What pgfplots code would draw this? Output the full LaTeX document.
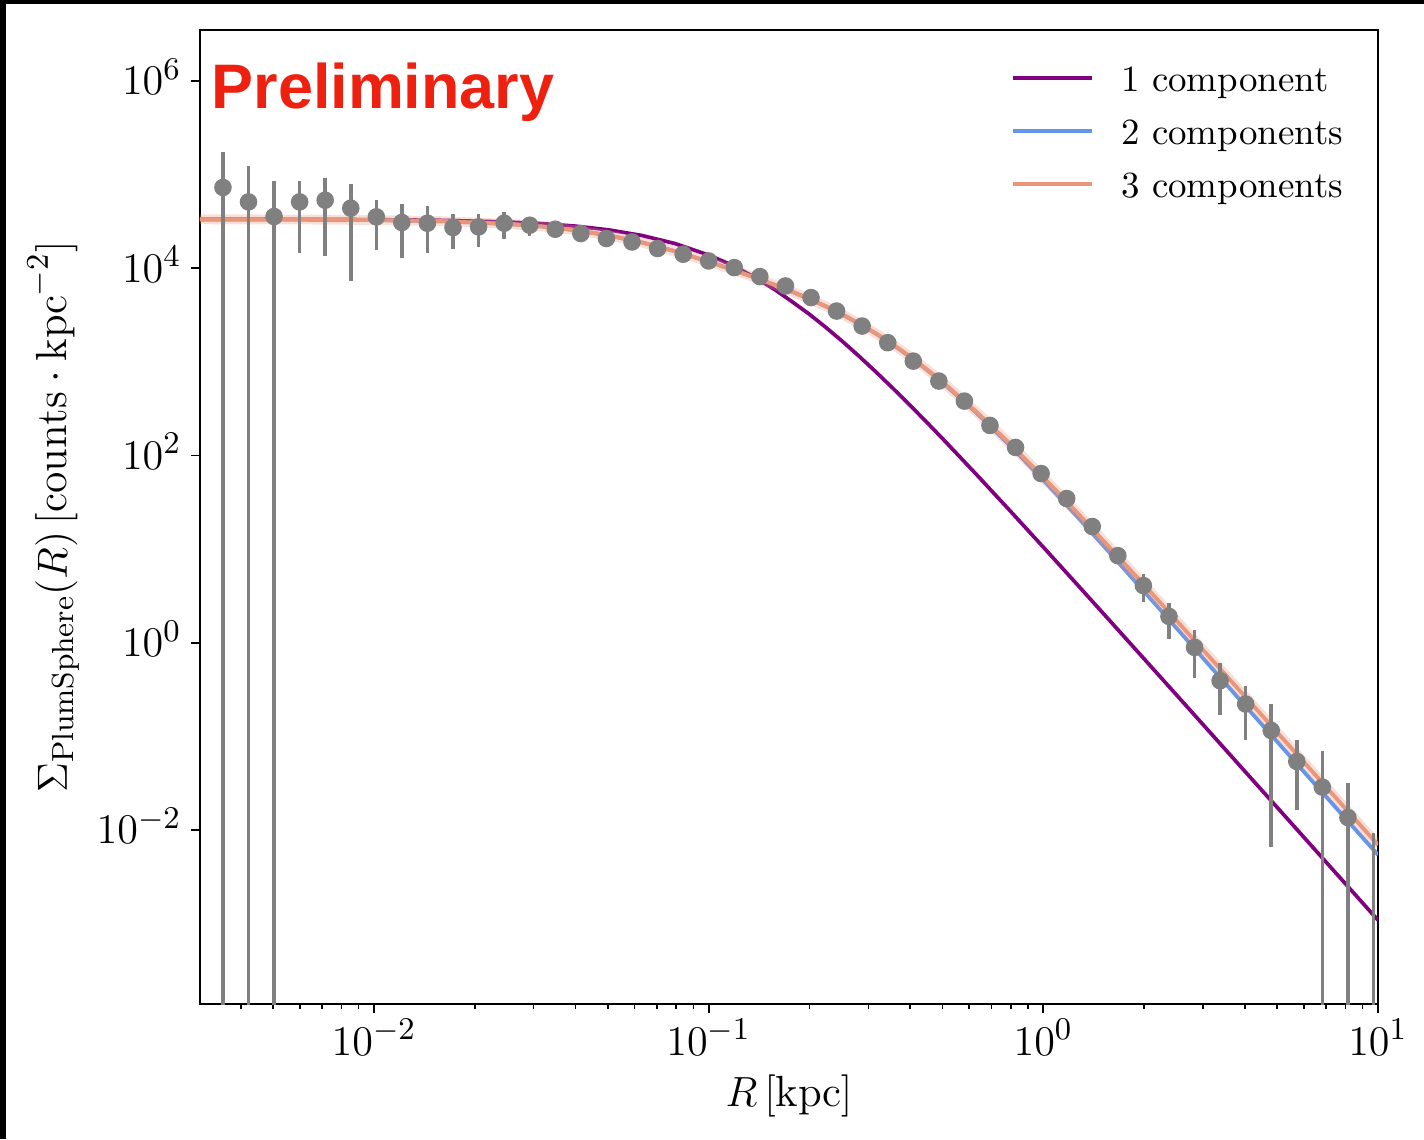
\documentclass[border=0pt]{standalone}
\usepackage{fontspec}
\usepackage{pgfplots}
\usepackage{pgfplotstable}
\pgfplotsset{compat=1.18}
\newfontfamily\prelimfont{Liberation Sans}

\definecolor{onecomp}{RGB}{128,0,128}
\definecolor{twocomp}{RGB}{100,149,237}
\definecolor{threecomp}{RGB}{233,150,122}
\definecolor{datagray}{RGB}{128,128,128}
\definecolor{prelimred}{RGB}{238,32,16}

% binned surface density profile
\pgfplotstableread{
R S
0.003537 72950
0.004217 51170
0.005028 35730
0.005995 51170
0.007147 53330
0.008522 43850
0.01016 35400
0.01211 30830
0.01444 30270
0.01722 27230
0.02053 27670
0.02449 30270
0.02919 28840
0.03481 26120
0.04150 23500
0.04948 20800
0.05902 19100
0.07036 16260
0.08390 14130
0.1000 11970
0.1193 10160
0.1422 8147
0.1696 6471
0.2022 4864
0.2411 3491
0.2874 2415
0.3428 1603
0.4087 1019
0.4873 623.7
0.5810 381.1
0.6928 209.4
0.8260 121.9
0.9849 64.12
1.1744 34.67
1.4002 17.42
1.6697 8.511
1.9907 4.074
2.3734 1.910
2.8301 0.8913
3.3743 0.3926
4.0233 0.2213
4.7973 0.1153
5.7196 0.05383
6.8202 0.02864
8.1310 0.01355
}\points

% error bar segments (lower, upper), separated by nan
\pgfplotstableread{
R S
0.003537 1e-5
0.003537 172600
0.003537 nan
0.004217 1e-5
0.004217 122500
0.004217 nan
0.005028 1e-5
0.005028 85900
0.005028 nan
0.005995 14720
0.005995 84530
0.005995 nan
0.007147 13550
0.007147 91830
0.007147 nan
0.008522 7311
0.008522 79070
0.008522 nan
0.01016 15600
0.01016 53700
0.01016 nan
0.01211 12790
0.01211 48310
0.01211 nan
0.01444 14720
0.01444 45710
0.01444 nan
0.01722 16260
0.01722 38460
0.01722 nan
0.02053 16900
0.02053 38460
0.02053 nan
0.02449 20750
0.02449 39450
0.02449 nan
0.02919 22130
0.02919 33420
0.02919 nan
0.03481 23990
0.03481 28180
0.03481 nan
0.04150 21380
0.04150 25120
0.04150 nan
0.04948 19050
0.04948 22130
0.04948 nan
1.9907 2.723
1.9907 5.433
1.9907 nan
2.3734 1.104
2.3734 2.661
2.3734 nan
2.8301 0.4198
2.8301 1.355
2.8301 nan
3.3743 0.1698
3.3743 0.6067
3.3743 nan
4.0233 0.09183
4.0233 0.3467
4.0233 nan
4.7973 0.006622
4.7973 0.2228
4.7973 nan
5.7196 0.01618
5.7196 0.09183
5.7196 nan
6.8202 1e-5
6.8202 0.06887
6.8202 nan
8.1310 1e-5
8.1310 0.03206
8.1310 nan
9.6962 1e-5
9.6962 0.009226
}\errbars

% model profiles: 1, 2 and 3 Plummer components
\pgfplotstableread{
R one two three
0.003020 33390 33327 33342
0.0039811 33360 33284 33299
0.0063096 33280 33134 33149
0.01 33050 32759 32774
0.015849 32510 31854 31869
0.025119 31200 29778 29793
0.031623 30000 27999 28014
0.039811 28240 25569 25584
0.050119 25750 22480 22495
0.063096 22420 18901 18916
0.079433 18340 15189 15204
0.1 13830 11762 11777
0.11220 11590 10248 10263
0.12589 9465 8884.4 8899.2
0.14125 7530 7665.1 7679.9
0.15849 5835 6575.7 6590.2
0.17783 4375 5597.1 5611.4
0.19953 3247 4713.3 4727.4
0.22387 2339 3914.0 3927.8
0.25119 1651 3194.7 3208.2
0.28184 1144 2556.1 2569.2
0.31623 779.8 2000.5 2013.1
0.35481 524.4 1529.7 1541.8
0.39811 348.7 1142.5 1153.9
0.44668 229.6 833.87 844.50
0.50119 149.9 595.34 605.11
0.63096 62.73 285.84 293.67
0.79433 25.79 128.32 134.07
1 10.48 54.685 58.510
1.2589 4.229 22.454 24.744
1.5849 1.697 9.0031 10.2436
1.9953 0.6794 3.56509 4.18175
2.5119 0.2713 1.40531 1.69167
3.1623 0.10824 0.553905 0.680351
3.9811 0.043152 0.218711 0.272606
5.0119 0.017195 0.086542 0.108970
6.3096 0.0068486 0.034308 0.043494
7.9433 0.0027271 0.013620 0.017344
10 0.0010859 0.0054118 0.0069117
}\curves

\begin{document}
\begin{tikzpicture}
\useasboundingbox (-2.00,-1.35) rectangle (12.24,10.04);
\fill[black] (-2.00,10.00) rectangle (12.24,10.04);
\fill[black] (-2.00,-1.35) rectangle (-1.94,10.04);
\begin{axis}[
  scale only axis,
  width=11.78cm, height=9.74cm,
  xmode=log, ymode=log,
  xmin=0.00302, xmax=10,
  ymin=1.38e-4, ymax=3.51e6,
  axis line style={line width=0.7pt},
  tick align=outside,
  xtick pos=bottom, ytick pos=left,
  xtick={0.01,0.1,1,10},
  minor xtick={0.004,0.005,0.006,0.007,0.008,0.009,0.02,0.03,0.04,0.05,0.06,0.07,0.08,0.09,0.2,0.3,0.4,0.5,0.6,0.7,0.8,0.9,2,3,4,5,6,7,8,9},
  ytick={1e-2,1,1e2,1e4,1e6},
  yminorticks=false,
  major tick length=0.09cm, minor tick length=0.05cm,
  major tick style={line width=0.55pt, black},
  minor tick style={line width=0.45pt, black},
  tick label style={font=\fontsize{12.2}{14}\selectfont},
  xticklabel style={anchor=base, yshift=-0.42cm},
  yticklabel style={anchor=base east, inner sep=0pt, xshift=-0.09cm, yshift=-0.138cm},
  xlabel={$R\,[\mathrm{kpc}]$},
  ylabel={$\Sigma_{\mathrm{PlumSphere}}(R)\,[\mathrm{counts}\cdot\mathrm{kpc}^{-2}]$},
  label style={font=\fontsize{12.4}{15}\selectfont},
  xlabel style={at={(axis description cs:0.5,-0.1057)}, anchor=base},
  ylabel style={at={(axis description cs:-0.1129,0.5)}, anchor=base},
  legend cell align=left,
  legend image code/.code={\draw[#1] (0cm,0cm) -- (0.79cm,0cm);},
  legend style={at={(axis description cs:0.9703,0.9691)}, anchor=north east,
    draw=none, fill=none, inner sep=0pt, outer sep=0pt, row sep=5.08pt,
    font=\fontsize{10.5}{12}\selectfont,
    nodes={inner sep=0pt, text height=9pt, text depth=1pt},
    /tikz/every odd column/.append style={column sep=0.27cm}},
]
\addplot[onecomp, line width=1.05pt] table[x=R, y=one] {\curves};
\addlegendentry{1 component}
\addplot[twocomp, line width=1.1pt] table[x=R, y=two] {\curves};
\addlegendentry{2 components}
\addplot[threecomp, line width=2.8pt, opacity=0.3, forget plot] table[x=R, y=three] {\curves};
\addplot[threecomp, line width=1.1pt] table[x=R, y=three] {\curves};
\addlegendentry{3 components}

\addplot[datagray, line width=1pt, unbounded coords=jump, forget plot] table[x=R, y=S] {\errbars};
\addplot[only marks, mark=*, mark size=2.3pt, datagray, mark options={draw=datagray, fill=datagray}, forget plot] table[x=R, y=S] {\points};

\node[anchor=base west, inner sep=0pt, text=prelimred, font=\prelimfont\bfseries\fontsize{17.9}{20}\selectfont]
  at (axis description cs:0.0093,0.9199) {Preliminary};
\end{axis}
\end{tikzpicture}
\end{document}
